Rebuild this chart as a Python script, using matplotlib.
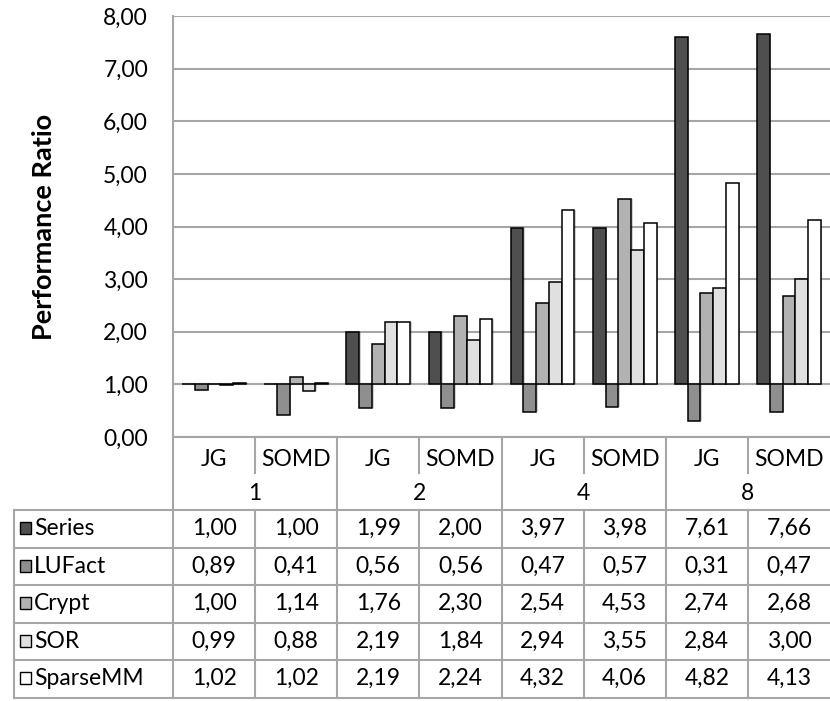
import matplotlib.pyplot as plt
from matplotlib.ticker import FuncFormatter
import numpy as np

plt.rcParams['font.family'] = ['Lato', 'DejaVu Sans']

# data
threads = ['1', '2', '4', '8']
versions = ['JG', 'SOMD']
series_names = ['Series', 'LUFact', 'Crypt', 'SOR', 'SparseMM']
series_vals = [1.00, 1.00, 1.99, 2.00, 3.97, 3.98, 7.61, 7.66]
lufact_vals = [0.89, 0.41, 0.56, 0.56, 0.47, 0.57, 0.31, 0.47]
crypt_vals = [1.00, 1.14, 1.76, 2.30, 2.54, 4.53, 2.74, 2.68]
sor_vals = [0.99, 0.88, 2.19, 1.84, 2.94, 3.55, 2.84, 3.00]
sparse_vals = [1.02, 1.02, 2.19, 2.24, 4.32, 4.06, 4.82, 4.13]
all_vals = [series_vals, lufact_vals, crypt_vals, sor_vals, sparse_vals]
colors = ['#4f4f4f', '#8f8f8f', '#b2b2b2', '#e0e0e0', '#ffffff']

W, H = 830, 701
fig = plt.figure(figsize=(W / 100, H / 100), dpi=100)

# plot area in pixels
left, right, top, bottom = 173, 830, 16, 437
ax = fig.add_axes([left / W, (H - bottom) / H, (right - left) / W, (bottom - top) / H])
ncat = len(series_vals)
ax.set_xlim(0, ncat)
ax.set_ylim(0, 8)
ax.set_yticks(range(0, 9))
ax.yaxis.set_major_formatter(FuncFormatter(lambda v, p: f'{v:.2f}'.replace('.', ',')))
ax.tick_params(axis='y', length=0, pad=18, labelsize=16.5)
ax.set_xticks([])
ax.grid(axis='y', color='#a6a6a6', lw=1.5)
ax.set_axisbelow(True)
for s in ['top', 'right', 'bottom']:
    ax.spines[s].set_visible(False)
ax.spines['left'].set_color('#a6a6a6')
ax.spines['left'].set_linewidth(1.5)
ax.set_ylabel('Performance Ratio', fontsize=19.5, fontweight='bold', labelpad=34)

bw = 0.155
x = np.arange(ncat) + 0.5
for j, (vals, c) in enumerate(zip(all_vals, colors)):
    v = np.array(vals)
    xs = x + (j - 2) * bw
    # soft shadow
    ax.bar(xs + 0.02, v - 1, bottom=1, width=bw, color='#000000', alpha=0.18,
           lw=0, zorder=2)
    ax.bar(xs, v - 1, bottom=1, width=bw, color=c, edgecolor='black', lw=1.1, zorder=3)
ax.axhline(1, color='#a6a6a6', lw=1.5, zorder=1)

# data table below the chart, drawn in pixel coordinates
tab = fig.add_axes([0, 0, 1, 1])
tab.set_xlim(0, W)
tab.set_ylim(H, 0)
tab.axis('off')
lc = '#a6a6a6'
cw = (right - left) / ncat
tleft = 14
row_top = 510
rh = 37.5
cat_mid = 473
fs = 16.5

# vertical axis line continues through the table
tab.plot([left, left], [bottom, row_top + rh * 5], color=lc, lw=1.5)
tab.plot([left, W], [bottom, bottom], color=lc, lw=1.5)
for i in range(1, ncat):
    xi = left + i * cw
    if i % 2 == 0:
        tab.plot([xi, xi], [bottom, row_top + rh * 5], color=lc, lw=1.5)
    else:
        tab.plot([xi, xi], [bottom, cat_mid], color=lc, lw=1.5)
        tab.plot([xi, xi], [row_top, row_top + rh * 5], color=lc, lw=1.5)
for i in range(ncat):
    tab.text(left + (i + 0.5) * cw, 459, versions[i % 2], ha='center', va='center', fontsize=fs)
for g, t in enumerate(threads):
    tab.text(left + (2 * g + 1) * cw, 493, t, ha='center', va='center', fontsize=fs)

for r in range(6):
    yr = row_top + r * rh
    tab.plot([tleft, W], [yr, yr], color=lc, lw=1.5)
tab.plot([tleft, tleft], [row_top, row_top + rh * 5], color=lc, lw=1.5)

for r, (name, vals, c) in enumerate(zip(series_names, all_vals, colors)):
    yc = row_top + (r + 0.5) * rh
    tab.add_patch(plt.Rectangle((20, yc - 6.5), 11, 12, facecolor=c, edgecolor='black', lw=1))
    tab.text(34, yc, name, ha='left', va='center', fontsize=fs)
    for i, v in enumerate(vals):
        tab.text(left + (i + 0.5) * cw, yc, f'{v:.2f}'.replace('.', ','),
                 ha='center', va='center', fontsize=fs)

fig.savefig('out.png', dpi=100)
